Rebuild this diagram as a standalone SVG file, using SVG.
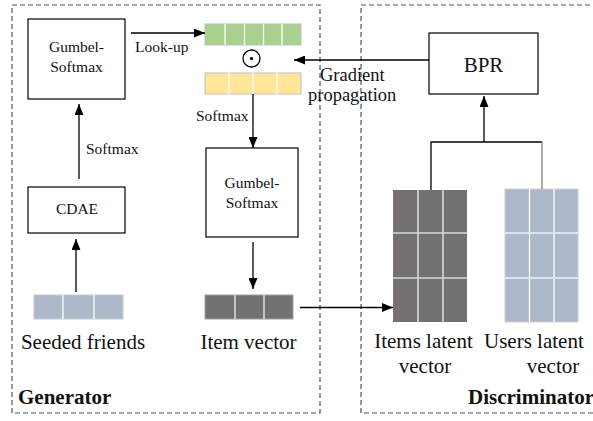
<svg xmlns="http://www.w3.org/2000/svg" width="593" height="421" viewBox="0 0 593 421" font-family="'Liberation Serif', 'Times New Roman', serif">
<defs>
<marker id="ah" markerUnits="userSpaceOnUse" markerWidth="11" markerHeight="9" refX="11" refY="4.5" orient="auto">
<path d="M0,0 L11,4.5 L0,9 z" fill="#000"/>
</marker>
<style>
.frame{fill:none;stroke:#44546a;stroke-width:1.2;stroke-dasharray:5 3}
.box{fill:#fff;stroke:#000;stroke-width:1.2}
.t{font-family:'Liberation Serif','Times New Roman',serif;fill:#111}
.s15{font-size:15.5px}
.s20{font-size:21px}
.s18{font-size:18.5px}
.b{font-weight:bold}
.c{text-anchor:middle}
.ar{fill:none;stroke:#000;stroke-width:1.3;marker-end:url(#ah)}
.ln{fill:none;stroke:#000;stroke-width:1.3}
.sepw{stroke:#fff;stroke-width:1.3}
.sepg{stroke:#d9d9d9;stroke-width:1.6}
</style>
</defs>
<rect width="593" height="421" fill="#fff"/>

<g id="generator-frame">
<rect class="frame" x="12" y="5" width="308" height="408"/>
<text class="t s20 b" x="18" y="404">Generator</text>
</g>
<g id="discriminator-frame">
<rect class="frame" x="361" y="5" width="260" height="408"/>
<text class="t s20 b" x="468" y="404">Discriminator</text>
</g>

<g id="gumbel1">
<rect class="box" x="28" y="19" width="97" height="80"/>
<text class="t s15 c" x="76.5" y="52">Gumbel-</text>
<text class="t s15 c" x="76.5" y="72">Softmax</text>
</g>

<g id="cdae">
<rect class="box" x="28" y="187" width="97" height="46"/>
<text class="t s15 c" x="77" y="214">CDAE</text>
</g>

<g id="seeded-friends">
<rect x="34" y="295" width="89" height="24" fill="#adb9ca" stroke="#c8c8c8" stroke-width="1"/>
<line class="sepw" x1="63" y1="295" x2="63" y2="319"/>
<line class="sepw" x1="94" y1="295" x2="94" y2="319"/>
<text class="t s20 c" x="83" y="349">Seeded friends</text>
</g>

<g id="green-vector">
<rect x="205" y="24" width="96" height="21" fill="#a9d18e" stroke="#c0c0c0" stroke-width="1"/>
<line class="sepw" x1="225" y1="24" x2="225" y2="45"/>
<line class="sepw" x1="244.5" y1="24" x2="244.5" y2="45"/>
<line class="sepw" x1="263.5" y1="24" x2="263.5" y2="45"/>
<line class="sepw" x1="282" y1="24" x2="282" y2="45"/>
</g>

<g id="odot">
<circle cx="251.5" cy="58.5" r="8.5" fill="none" stroke="#000" stroke-width="1.3"/>
<circle cx="251.5" cy="58.5" r="1.6" fill="#000"/>
</g>

<g id="yellow-vector">
<rect x="205" y="73" width="96" height="21" fill="#ffe699" stroke="#c0c0c0" stroke-width="1"/>
<line class="sepw" x1="229" y1="73" x2="229" y2="94"/>
<line class="sepw" x1="253" y1="73" x2="253" y2="94"/>
<line class="sepw" x1="277" y1="73" x2="277" y2="94"/>
</g>

<g id="gumbel2">
<rect class="box" x="206" y="148" width="92" height="89"/>
<text class="t s15 c" x="252" y="188">Gumbel-</text>
<text class="t s15 c" x="252" y="208">Softmax</text>
</g>

<g id="item-vector">
<rect x="205" y="295" width="88" height="24" fill="#767171" stroke="#a0a0a0" stroke-width="1"/>
<line class="sepg" x1="235" y1="295" x2="235" y2="319"/>
<line class="sepg" x1="264" y1="295" x2="264" y2="319"/>
<text class="t s20 c" x="248.5" y="349">Item vector</text>
</g>

<g id="bpr">
<rect class="box" x="429" y="33" width="109" height="61"/>
<text class="t s20 c" x="483.5" y="72">BPR</text>
</g>

<g id="items-latent">
<rect x="393" y="190" width="74" height="132" fill="#767171"/>
<line class="sepg" x1="418" y1="190" x2="418" y2="322"/>
<line class="sepg" x1="443" y1="190" x2="443" y2="322"/>
<line class="sepg" x1="393" y1="233" x2="467" y2="233" stroke-width="2"/>
<line class="sepg" x1="393" y1="278" x2="467" y2="278" stroke-width="2"/>
<text class="t s20 c" x="423.5" y="348">Items latent</text>
<text class="t s20 c" x="425" y="373">vector</text>
</g>

<g id="users-latent">
<rect x="505" y="189" width="73" height="133" fill="#adb9ca" stroke="#d0d0d0" stroke-width="1"/>
<line class="sepw" x1="529.5" y1="189" x2="529.5" y2="322" stroke="#dde3ec"/>
<line class="sepw" x1="554" y1="189" x2="554" y2="322" stroke="#dde3ec"/>
<line x1="505" y1="233" x2="578" y2="233" stroke="#dde3ec" stroke-width="2.2"/>
<line x1="505" y1="278" x2="578" y2="278" stroke="#dde3ec" stroke-width="2.2"/>
<text class="t s20" x="484" y="348">Users latent</text>
<text class="t s20 c" x="553" y="373">vector</text>
</g>

<g id="connectors">
<path class="ar" d="M131,33 H205"/>
<text class="t s15" x="135" y="52">Look-up</text>
<path class="ar" d="M429,60 H294"/>
<text class="t s18" x="320" y="81">Gradient</text>
<text class="t s18" x="308" y="101">propagation</text>
<path class="ar" d="M253,94 V148"/>
<text class="t s15" x="196" y="121">Softmax</text>
<path class="ar" d="M253,242 V289"/>
<path class="ar" d="M300,307.5 H393"/>
<path class="ar" d="M79,179 V104"/>
<text class="t s15" x="86" y="154">Softmax</text>
<path class="ar" d="M76,292 V239"/>
<path class="ln" d="M431,190 V142 H542"/>
<path d="M542,142 V189" fill="none" stroke="#7f7f7f" stroke-width="1.3"/>
<path class="ar" d="M484,142 V96"/>
</g>
</svg>
